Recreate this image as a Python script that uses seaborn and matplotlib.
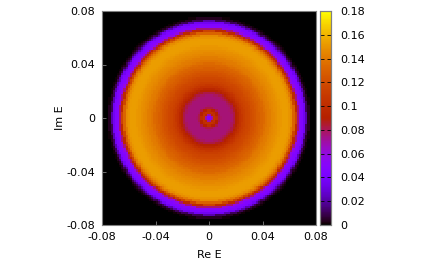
import matplotlib
matplotlib.use("Agg")
import matplotlib.pyplot as plt
import seaborn as sns
import numpy as np

# density, one value per radial bin from the centre outwards
radial_step = 0.001
radial_density = [0.045, 0.045, 0.070, 0.098, 0.104, 0.100, 0.090, 0.082, 0.078, 0.076,
                  0.076, 0.076, 0.076, 0.076, 0.076, 0.076, 0.077, 0.079, 0.082, 0.086,
                  0.091, 0.096, 0.100, 0.104, 0.107, 0.110, 0.112, 0.114, 0.116, 0.117,
                  0.118, 0.120, 0.122, 0.123, 0.125, 0.126, 0.128, 0.129, 0.131, 0.132,
                  0.134, 0.136, 0.138, 0.140, 0.141, 0.142, 0.144, 0.145, 0.146, 0.147,
                  0.148, 0.149, 0.150, 0.151, 0.152, 0.153, 0.153, 0.153, 0.153, 0.152,
                  0.150, 0.147, 0.141, 0.131, 0.116, 0.098, 0.076, 0.058, 0.049, 0.046,
                  0.044, 0.036, 0.022, 0.010, 0.004, 0.001, 0.0]
n_cells = 100
axis_limit = 0.08
axis_ticks = [-0.08, -0.04, 0, 0.04, 0.08]
axis_labels = ["-0.08", "-0.04", "0", "0.04", "0.08"]
cb_ticks = [0, 0.02, 0.04, 0.06, 0.08, 0.1, 0.12, 0.14, 0.16, 0.18]
cb_labels = ["0", "0.02", "0.04", "0.06", "0.08", "0.1", "0.12", "0.14", "0.16", "0.18"]

edges = np.linspace(-axis_limit, axis_limit, n_cells + 1)
centres = (edges[:-1] + edges[1:]) / 2
xx, yy = np.meshgrid(centres, centres[::-1])
bins = np.minimum((np.hypot(xx, yy) / radial_step).astype(int), len(radial_density) - 1)
grid = np.array(radial_density)[bins]

W, H = 436, 262
fig = plt.figure(figsize=(W / 100, H / 100), dpi=100)
ax = fig.add_axes([102 / W, 1 - 225 / H, 214 / W, 214 / H])
cax = fig.add_axes([320 / W, 1 - 225 / H, 11 / W, 214 / H])

sns.heatmap(grid, ax=ax, cbar_ax=cax, cmap="gnuplot", vmin=0, vmax=0.18,
            xticklabels=False, yticklabels=False, rasterized=True)

to_x = lambda v: (v + axis_limit) / (2 * axis_limit) * n_cells
to_y = lambda v: (axis_limit - v) / (2 * axis_limit) * n_cells
ax.set_xticks([to_x(v) for v in axis_ticks])
ax.set_xticklabels(axis_labels, rotation=0, fontsize=8)
ax.set_yticks([to_y(v) for v in axis_ticks])
ax.set_yticklabels(axis_labels, rotation=0, fontsize=8)
ax.tick_params(direction="in", length=3, width=0.6, color="#808080", pad=5)
ax.set_xlabel("Re E", fontsize=8, labelpad=6)
ax.set_ylabel("Im E", fontsize=8, labelpad=1)
for s in ax.spines.values():
    s.set_visible(True)
    s.set_color("#808080")
    s.set_linewidth(0.8)

cax.set_yticks(cb_ticks)
cax.set_yticklabels(cb_labels, fontsize=8)
cax.tick_params(direction="in", length=3, width=0.6, color="black", pad=7, left=True, right=True)
for s in cax.spines.values():
    s.set_visible(True)
    s.set_color("#808080")
    s.set_linewidth(0.8)

fig.savefig("out.png", dpi=100)
